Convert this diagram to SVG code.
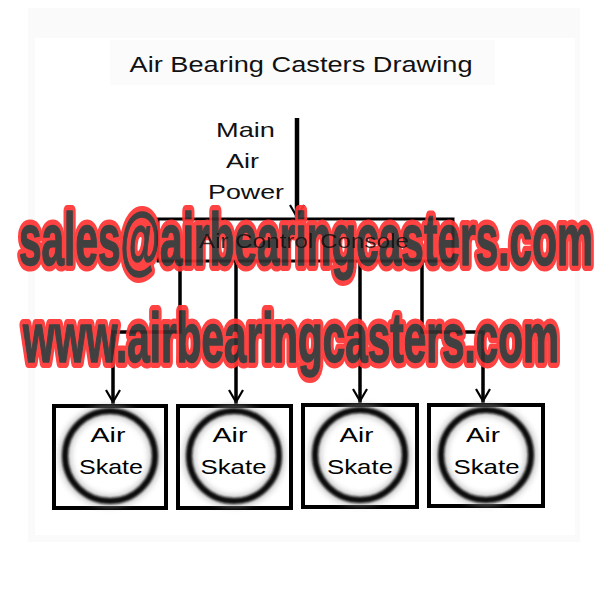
<svg xmlns="http://www.w3.org/2000/svg" width="600" height="600" viewBox="0 0 600 600">
  <defs>
    <style>
      .t { font-family: "Liberation Sans", Arial, sans-serif; fill: #111; }
      .ln { stroke: #000; stroke-width: 3.5; fill: none; stroke-linecap: square; }
      .box { stroke: #000; stroke-width: 4; fill: #fff; }
      .ring { fill: none; stroke: #111; stroke-width: 6; filter: url(#blur); }
      .ring2 { fill: none; stroke: #999; stroke-width: 11; filter: url(#blur2); opacity: 0.6; }
      .skt { font-family: "Liberation Sans", Arial, sans-serif; font-size: 21px; fill: #000; text-anchor: middle; }
      .wm { font-family: "Liberation Sans", Arial, sans-serif; font-weight: bold; }
      .wmr { fill: #ff3434; stroke: #ff3434; stroke-width: 12; stroke-linejoin: round; }
      .wmd { fill: #333; stroke: #333; stroke-width: 1.5; stroke-linejoin: round; }
    </style>
    <marker id="ah" viewBox="0 0 16 16" refX="15" refY="8" markerWidth="16" markerHeight="16" markerUnits="userSpaceOnUse" orient="auto">
      <path d="M3,1 L15,8 L3,15" fill="none" stroke="#000" stroke-width="2.2"/>
    </marker>
    <filter id="blur" x="-20%" y="-20%" width="140%" height="140%"><feGaussianBlur stdDeviation="1.3"/></filter>
    <filter id="blur2" x="-20%" y="-20%" width="140%" height="140%"><feGaussianBlur stdDeviation="3"/></filter>
    <filter id="wmblur" x="-5%" y="-20%" width="110%" height="140%"><feGaussianBlur stdDeviation="0.7"/></filter>
  </defs>

  <rect x="0" y="0" width="600" height="600" fill="#fff"/>
  <rect x="28" y="8" width="552" height="534" fill="#fafafa"/>
  <rect x="35" y="38" width="540" height="497" fill="#fff"/>
  <rect x="110" y="40" width="385" height="45" fill="#fbfbfb"/>

  <g id="title">
    <text class="t" x="301" y="72" font-size="22" text-anchor="middle" textLength="343" lengthAdjust="spacingAndGlyphs">Air Bearing Casters Drawing</text>
  </g>

  <g id="main-air-power">
    <text class="t" x="245.5" y="137" font-size="21" text-anchor="middle" textLength="59" lengthAdjust="spacingAndGlyphs">Main</text>
    <text class="t" x="242.5" y="168" font-size="21" text-anchor="middle" textLength="33" lengthAdjust="spacingAndGlyphs">Air</text>
    <text class="t" x="246" y="199" font-size="21" text-anchor="middle" textLength="76" lengthAdjust="spacingAndGlyphs">Power</text>
  </g>

  <g id="connectors">
    <line x1="297" y1="118" x2="297" y2="217" stroke="#000" stroke-width="4.5" marker-end="url(#ah)"/>
    <polyline class="ln" points="180,262 180,332 113,332 113,402" marker-end="url(#ah)"/>
    <line class="ln" x1="236" y1="262" x2="236" y2="402" marker-end="url(#ah)"/>
    <line class="ln" x1="360" y1="262" x2="360" y2="401" marker-end="url(#ah)"/>
    <polyline class="ln" points="422,262 422,332 483,332 483,401" marker-end="url(#ah)"/>
  </g>

  <g id="console">
    <rect x="158" y="219" width="295" height="42" fill="#fff" stroke="#000" stroke-width="3"/>
  </g>

  <g id="skate1">
    <rect class="box" x="54" y="406" width="112" height="102"/>
    <circle class="ring2" cx="110" cy="456" r="45"/>
    <circle class="ring" cx="110" cy="456" r="45"/>
    <text class="skt" x="108" y="442" textLength="35" lengthAdjust="spacingAndGlyphs">Air</text>
    <text class="skt" x="111" y="474" textLength="64" lengthAdjust="spacingAndGlyphs">Skate</text>
  </g>
  <g id="skate2">
    <rect class="box" x="178" y="406" width="113" height="102"/>
    <circle class="ring2" cx="234" cy="456" r="45"/>
    <circle class="ring" cx="234" cy="456" r="45"/>
    <text class="skt" x="230" y="442" textLength="35" lengthAdjust="spacingAndGlyphs">Air</text>
    <text class="skt" x="233.5" y="474" textLength="66" lengthAdjust="spacingAndGlyphs">Skate</text>
  </g>
  <g id="skate3">
    <rect class="box" x="303" y="405" width="114" height="102"/>
    <circle class="ring2" cx="360" cy="455" r="45"/>
    <circle class="ring" cx="360" cy="455" r="45"/>
    <text class="skt" x="356.5" y="442" textLength="34" lengthAdjust="spacingAndGlyphs">Air</text>
    <text class="skt" x="360" y="474" textLength="66" lengthAdjust="spacingAndGlyphs">Skate</text>
  </g>
  <g id="skate4">
    <rect class="box" x="429" y="405" width="114" height="101"/>
    <circle class="ring2" cx="486" cy="455" r="45"/>
    <circle class="ring" cx="486" cy="455" r="45"/>
    <text class="skt" x="483" y="442" textLength="34" lengthAdjust="spacingAndGlyphs">Air</text>
    <text class="skt" x="486.5" y="474" textLength="66" lengthAdjust="spacingAndGlyphs">Skate</text>
  </g>

  <g id="watermark" opacity="0.93" filter="url(#wmblur)">
    <text class="wm wmr" x="19" y="265" font-size="74" textLength="574" lengthAdjust="spacingAndGlyphs">sales@airbearingcasters.com</text>
    <text class="wm wmd" x="19" y="265" font-size="74" textLength="574" lengthAdjust="spacingAndGlyphs">sales@airbearingcasters.com</text>
    <text class="wm wmr" x="23" y="362" font-size="70" textLength="536" lengthAdjust="spacingAndGlyphs">www.airbearingcasters.com</text>
    <text class="wm wmd" x="23" y="362" font-size="70" textLength="536" lengthAdjust="spacingAndGlyphs">www.airbearingcasters.com</text>
  </g>

  <g id="console-label">
    <text class="t" x="304" y="248" font-size="21" fill="#111" text-anchor="middle" textLength="210" lengthAdjust="spacingAndGlyphs" opacity="0.85">Air Control Console</text>
  </g>
</svg>
